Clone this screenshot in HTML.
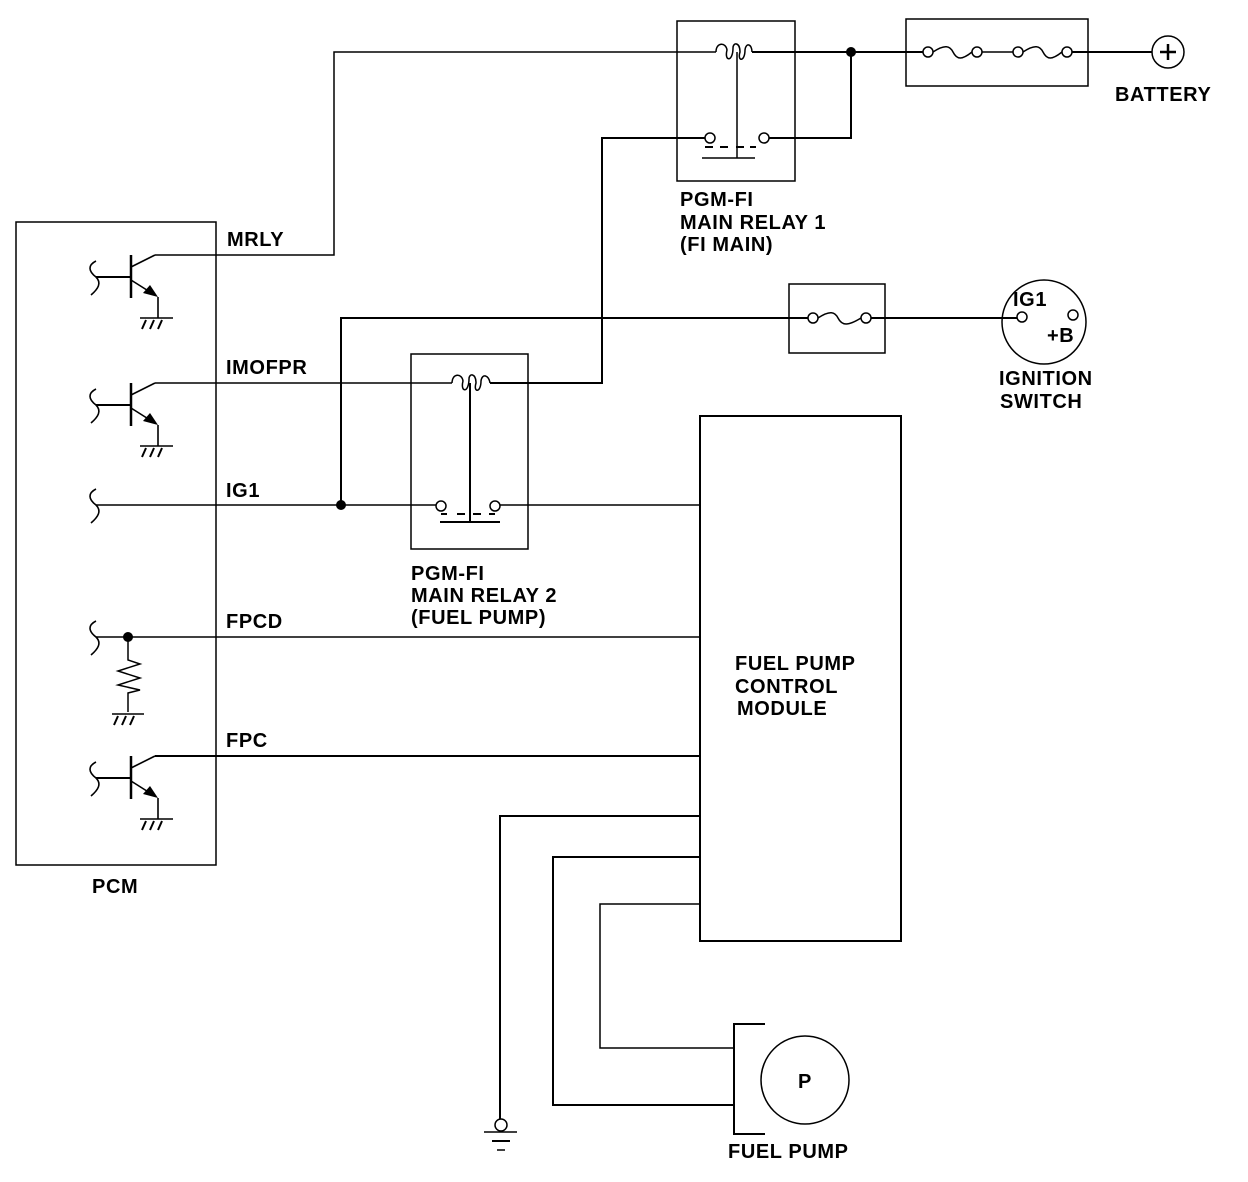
<!DOCTYPE html>
<html><head><style>
body{margin:0;background:#fff}
svg{display:block}
text{font-family:"Liberation Sans",Arial,sans-serif;font-weight:bold;font-size:20px;letter-spacing:0.6px;fill:#000}
</style></head><body>
<svg width="1248" height="1182" viewBox="0 0 1248 1182" xmlns="http://www.w3.org/2000/svg">
<defs>
<g id="tr" stroke="#000" fill="none">
  <path d="M96,6 C88,10 88,16 96,22 C102,28 98,34 91,40" stroke-width="1.6"/>
  <line x1="96" y1="22" x2="131" y2="22" stroke-width="2"/>
  <line x1="131" y1="0" x2="131" y2="43" stroke-width="2.5"/>
  <line x1="131" y1="12" x2="155" y2="0" stroke-width="1.6"/>
  <line x1="131" y1="25" x2="150" y2="37" stroke-width="1.6"/>
  <polygon points="158,42 143,38 150,30" fill="#000" stroke="none"/>
  <line x1="158" y1="42" x2="158" y2="63" stroke-width="1.6"/>
  <line x1="140" y1="63" x2="173" y2="63" stroke-width="1.6"/>
  <path d="M146,65 l-4,9 M154,65 l-4,9 M162,65 l-4,9" stroke-width="2"/>
</g>
<g id="sq" stroke="#000" fill="none" stroke-width="1.6">
  <path d="M96,-16 C88,-12 88,-6 96,0 C102,6 98,12 91,18"/>
</g>
</defs>
<g stroke="#000" fill="none">
<rect x="16" y="222" width="200" height="643" stroke-width="1.5"/>
<use href="#tr" y="255"/>
<use href="#tr" y="383"/>
<use href="#tr" y="756"/>
<use href="#sq" y="505"/>
<use href="#sq" y="637"/>
<polyline points="155,255 334,255 334,52 716,52" stroke-width="1.5"/>
<rect x="677" y="21" width="118" height="160" stroke-width="1.5"/>
<path d="M716,52 C716,42 726,42 727,50 C724,62 733,62 733,48 C733,42 740,42 740,52 C737,62 745,62 745,50 C746,42 752,44 752,52" stroke-width="1.5"/>
<line x1="737" y1="52" x2="737" y2="158" stroke-width="1.5"/>
<line x1="702" y1="158" x2="755" y2="158" stroke-width="1.5"/>
<path d="M705,147 h8 M720,147 h8 M736,147 h8 M750,147 h6" stroke-width="2"/>
<circle cx="710" cy="138" r="5" stroke-width="1.5"/>
<circle cx="764" cy="138" r="5" stroke-width="1.5"/>
<polyline points="705,138 602,138 602,383 490,383" stroke-width="2"/>
<polyline points="769,138 851,138 851,52" stroke-width="2"/>
<line x1="752" y1="52" x2="923" y2="52" stroke-width="2"/>
<rect x="906" y="19" width="182" height="67" stroke-width="1.5"/>
<circle cx="928" cy="52" r="5" stroke-width="1.5"/>
<circle cx="977" cy="52" r="5" stroke-width="1.5"/>
<circle cx="1018" cy="52" r="5" stroke-width="1.5"/>
<circle cx="1067" cy="52" r="5" stroke-width="1.5"/>
<path d="M933,52 C945,44 950,46 953,52 C957,60 962,60 972,52" stroke-width="1.5"/>
<path d="M1023,52 C1035,44 1040,46 1043,52 C1047,60 1052,60 1062,52" stroke-width="1.5"/>
<line x1="982" y1="52" x2="1013" y2="52" stroke-width="1.5"/>
<line x1="1072" y1="52" x2="1152" y2="52" stroke-width="2"/>
<circle cx="1168" cy="52" r="16" stroke-width="1.5"/>
<path d="M1168,44 v16 M1160,52 h16" stroke-width="2.5"/>
<polyline points="341,505 341,318 808,318" stroke-width="2"/>
<rect x="789" y="284" width="96" height="69" stroke-width="1.5"/>
<circle cx="813" cy="318" r="5" stroke-width="1.5"/>
<circle cx="866" cy="318" r="5" stroke-width="1.5"/>
<path d="M818,318 C830,310 835,312 838,318 C842,326 848,326 861,318" stroke-width="1.5"/>
<line x1="871" y1="318" x2="1017" y2="318" stroke-width="2"/>
<circle cx="1044" cy="322" r="42" stroke-width="1.5"/>
<circle cx="1022" cy="317" r="5" stroke-width="1.5"/>
<circle cx="1073" cy="315" r="5" stroke-width="1.5"/>
<line x1="155" y1="383" x2="452" y2="383" stroke-width="1.5"/>
<rect x="411" y="354" width="117" height="195" stroke-width="1.5"/>
<path d="M452,383 C452,373 462,373 463,381 C460,393 469,393 469,379 C469,373 476,373 476,383 C473,393 481,393 481,381 C482,373 489,375 490,383" stroke-width="1.5"/>
<line x1="470" y1="383" x2="470" y2="522" stroke-width="2"/>
<line x1="440" y1="522" x2="500" y2="522" stroke-width="2"/>
<path d="M441,514 h6 M457,514 h8 M473,514 h8 M489,514 h6" stroke-width="2"/>
<circle cx="441" cy="506" r="5" stroke-width="1.5"/>
<circle cx="495" cy="506" r="5" stroke-width="1.5"/>
<line x1="96" y1="505" x2="436" y2="505" stroke-width="1.5"/>
<line x1="500" y1="505" x2="700" y2="505" stroke-width="1.5"/>
<line x1="96" y1="637" x2="700" y2="637" stroke-width="1.5"/>
<polyline points="128,637 128,660 140,664 118,671 140,678 118,685 140,690 128,693 128,712" stroke-width="1.5"/>
<line x1="112" y1="714" x2="144" y2="714" stroke-width="1.5"/>
<path d="M118,716 l-4,9 M126,716 l-4,9 M134,716 l-4,9" stroke-width="2"/>
<line x1="155" y1="756" x2="700" y2="756" stroke-width="2"/>
<rect x="700" y="416" width="201" height="525" stroke-width="2"/>
<polyline points="700,816 500,816 500,1119" stroke-width="2"/>
<polyline points="700,857 553,857 553,1105 735,1105" stroke-width="2"/>
<polyline points="700,904 600,904 600,1048 735,1048" stroke-width="1.5"/>
<circle cx="501" cy="1125" r="6" stroke-width="1.5"/>
<line x1="484" y1="1132" x2="517" y2="1132" stroke-width="1.5"/>
<line x1="492" y1="1141" x2="510" y2="1141" stroke-width="2"/>
<line x1="497" y1="1150" x2="505" y2="1150" stroke-width="1.5"/>
<polyline points="765,1024 734,1024 734,1134 765,1134" stroke-width="2"/>
<circle cx="805" cy="1080" r="44" stroke-width="1.5"/>
</g>
<circle cx="851" cy="52" r="5" fill="#000"/>
<circle cx="341" cy="505" r="5" fill="#000"/>
<circle cx="128" cy="637" r="5" fill="#000"/>
<text x="227" y="246">MRLY</text>
<text x="226" y="374">IMOFPR</text>
<text x="226" y="497">IG1</text>
<text x="226" y="628">FPCD</text>
<text x="226" y="747">FPC</text>
<text x="92" y="893">PCM</text>
<text x="680" y="206">PGM-FI</text>
<text x="680" y="229">MAIN RELAY 1</text>
<text x="680" y="251">(FI MAIN)</text>
<text x="411" y="580">PGM-FI</text>
<text x="411" y="602">MAIN RELAY 2</text>
<text x="411" y="624">(FUEL PUMP)</text>
<text x="1115" y="101">BATTERY</text>
<text x="1013" y="306">IG1</text>
<text x="1047" y="342">+B</text>
<text x="999" y="385">IGNITION</text>
<text x="1000" y="408">SWITCH</text>
<text x="735" y="670">FUEL PUMP</text>
<text x="735" y="693">CONTROL</text>
<text x="737" y="715">MODULE</text>
<text x="798" y="1088">P</text>
<text x="728" y="1158">FUEL PUMP</text>
</svg>
</body></html>
